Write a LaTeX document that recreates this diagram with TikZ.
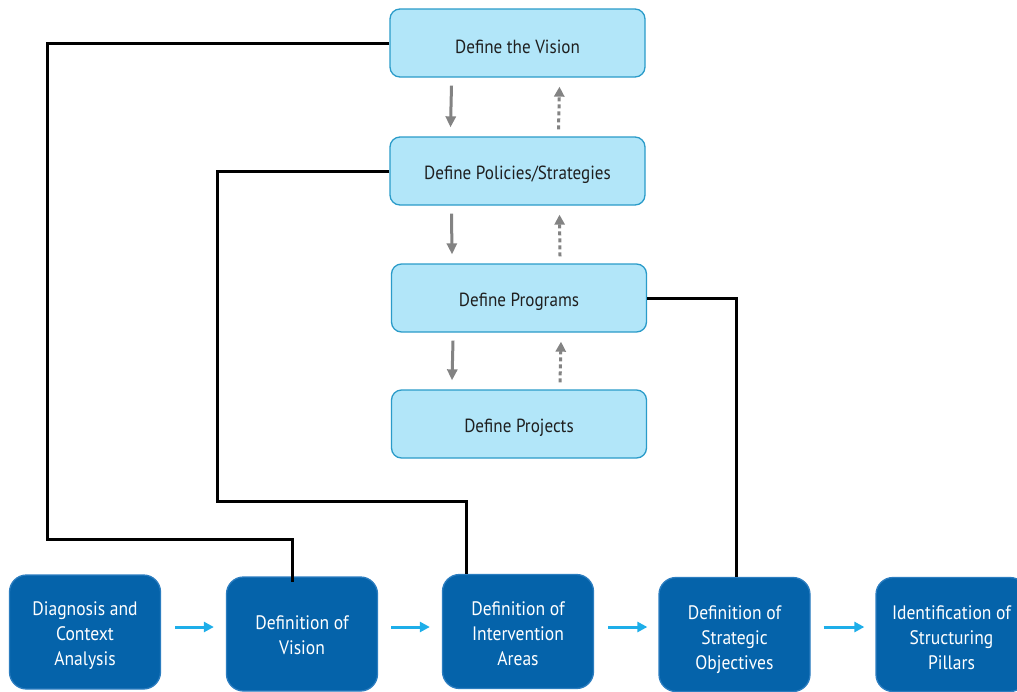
\documentclass[tikz,border=0pt]{standalone}
\usepackage{fontspec}
\setmainfont{PT Sans}[FakeStretch=0.9]
\usetikzlibrary{arrows.meta,calc}
\definecolor{lightbox}{HTML}{B2E6F9}
\definecolor{lightedge}{HTML}{2A9BC9}
\definecolor{darkbox}{HTML}{0563AA}
\definecolor{darkedge}{HTML}{2B7DC0}
\definecolor{flowblue}{HTML}{1EAEE9}
\definecolor{linkgray}{HTML}{838383}
\tikzset{
  levelbox/.style={draw=lightedge, line width=1.3pt, fill=lightbox, rounded corners=10pt,
    minimum width=255pt, minimum height=68pt, inner sep=0pt,
    label={[font=\fontsize{19}{22}\selectfont, text=black!88, yshift=-3.5pt]center:#1}},
  phasebox/.style 2 args={draw=darkedge, line width=1.3pt, fill=darkbox, rounded corners=17pt,
    minimum width=151pt, minimum height=114pt, inner sep=0pt,
    label={[align=center, text=white, font=\fontsize{19.5}{25}\selectfont, yshift=-#1]center:#2}},
  flow/.style={draw=flowblue, line width=3pt, -{Triangle[length=10pt,width=10pt]}},
  down/.style={draw=linkgray, line width=3pt, -{Triangle[length=11pt,width=10pt]}},
  up/.style={draw=linkgray, line width=3pt, dash pattern=on 4pt off 3pt, -{Triangle[length=10pt,width=10pt]}},
  tie/.style={draw=black, line width=3pt},
}
\begin{document}
\begin{tikzpicture}[x=1pt,y=-1pt]
\useasboundingbox (0,0) rectangle (1017,691);

% planning levels
\node[levelbox={Define the Vision}]         (vision)   at (517.5,43)  {};
\node[levelbox={Define Policies/Strategies}] (policies) at (517.5,171) {};
\node[levelbox={Define Programs}]           (programs) at (519,298)   {};
\node[levelbox={Define Projects}]           (projects) at (519,424)   {};

% process phases
\node[phasebox={4pt}{Diagnosis and\\Context\\Analysis}]          (diag)    at (85,632)      {};
\node[phasebox={1.5pt}{Definition of\\Vision}]                   (defvis)  at (302,634)     {};
\node[phasebox={2pt}{Definition of\\Intervention\\Areas}]        (areas)   at (518,631.5)   {};
\node[phasebox={5pt}{Definition of\\Strategic\\Objectives}]      (objs)    at (734.5,634.5) {};
\node[phasebox={3pt}{Identification of\\Structuring\\Pillars}]   (pillars) at (951.5,634.5) {};

% flow between phases
\draw[flow] ($(diag.east)+(14,-5)$) -- ($(defvis.west)+(-12,-7)$);
\draw[flow] ($(defvis.east)+(13,-7)$) -- ($(areas.west)+(-12,-4.5)$);
\draw[flow] ($(areas.east)+(14,-4.5)$) -- ($(objs.west)+(-11,-7.5)$);
\draw[flow] ($(objs.east)+(13,-7.5)$) -- ($(pillars.west)+(-11,-7.5)$);

% top-down and bottom-up links between levels
\foreach \a/\b in {vision/policies, policies/programs, programs/projects}{
  \draw[down] ($(\a.south)+(-66,8)$) -- ($(\b.north)+(-67,-9)$);
  \draw[up]   ($(\b.north)+(41,-7)$) -- ($(\a.south)+(42,9)$);
}

% links from levels to phases
\draw[tie] (vision.west) -| (47,539) -| ($(defvis.north)+(-10,6)$);
\draw[tie] (policies.west) -| (217,501) -| ($(areas.north)+(-52,0)$);
\draw[tie] (programs.east) -| ($(objs.north)+(1.5,0)$);
\end{tikzpicture}
\end{document}
